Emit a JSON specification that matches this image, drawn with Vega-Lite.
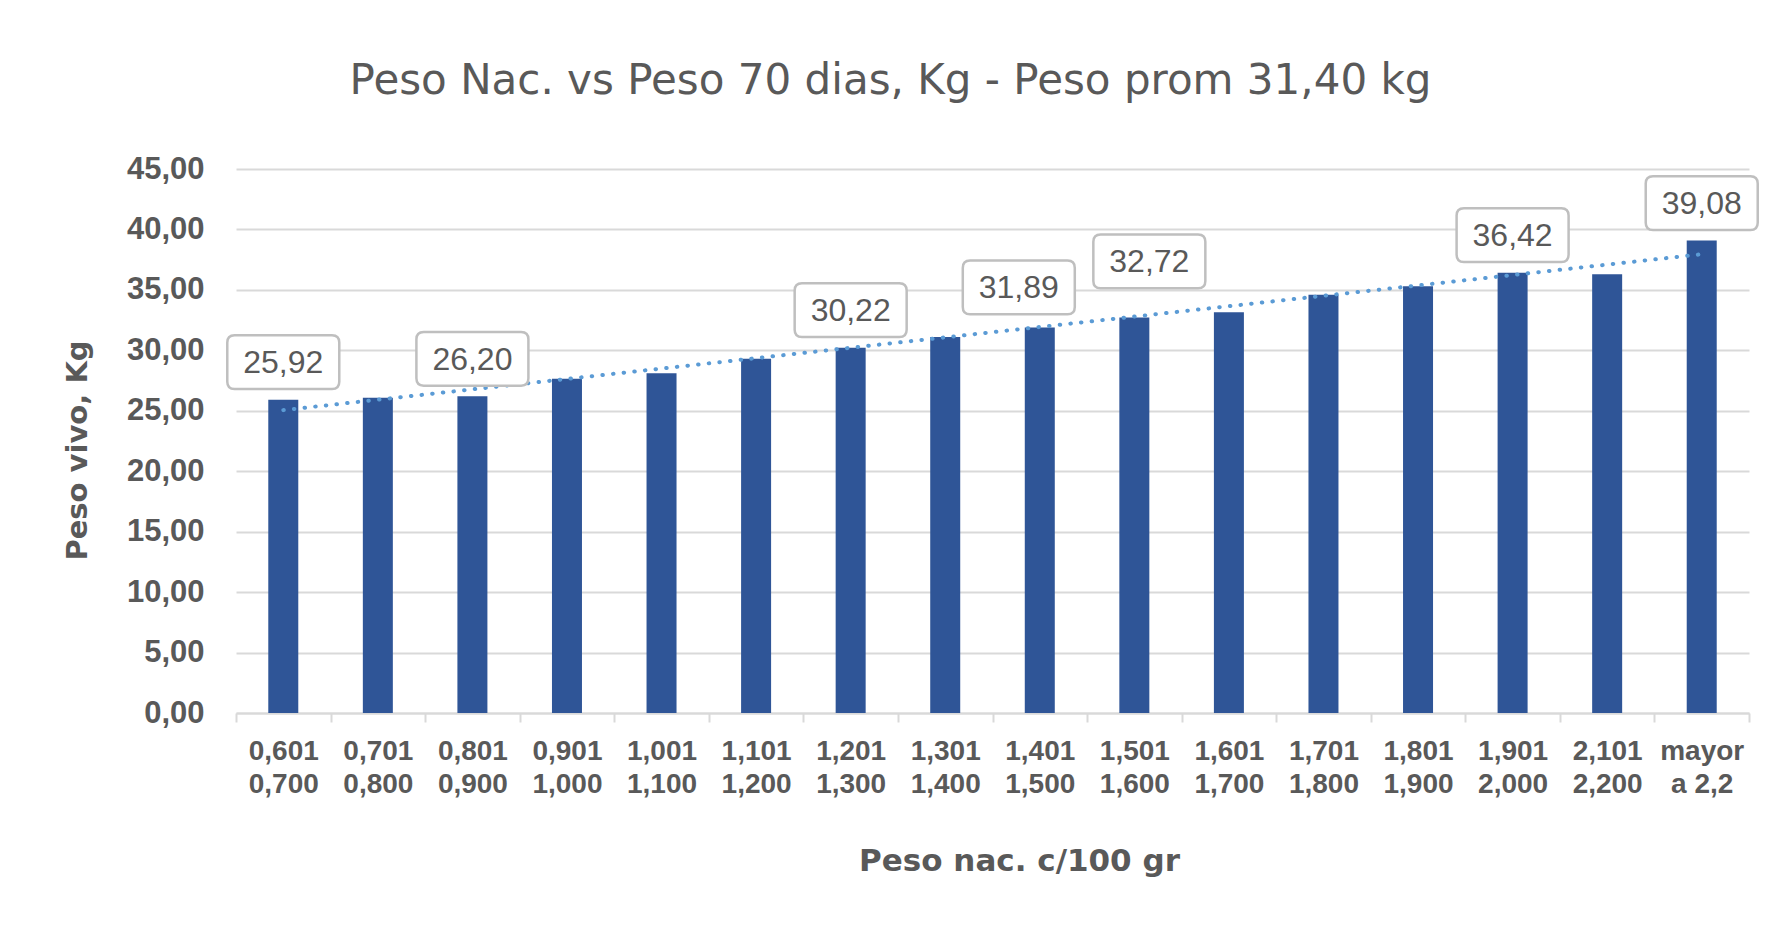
{
  "$schema": "https://vega.github.io/schema/vega-lite/v6.json",
  "width": 1513,
  "height": 544,
  "autosize": {"type": "none"},
  "padding": {"left": 236, "top": 169, "right": 32, "bottom": 215},
  "background": "white",
  "title": {
    "text": "Peso Nac. vs Peso 70 dias, Kg - Peso prom 31,40 kg",
    "font": "DejaVu Sans",
    "fontSize": 42,
    "fontWeight": "normal",
    "color": "#595959",
    "anchor": "middle",
    "frame": "group",
    "dx": -102,
    "offset": 17,
    "baseline": "alphabetic"
  },
  "datasets": {
    "bars": [
      {"idx": 1, "cat": "0,601|0,700", "value": 25.92, "etiqueta": true},
      {"idx": 2, "cat": "0,701|0,800", "value": 26.08, "etiqueta": false},
      {"idx": 3, "cat": "0,801|0,900", "value": 26.20, "etiqueta": true},
      {"idx": 4, "cat": "0,901|1,000", "value": 27.65, "etiqueta": false},
      {"idx": 5, "cat": "1,001|1,100", "value": 28.10, "etiqueta": false},
      {"idx": 6, "cat": "1,101|1,200", "value": 29.30, "etiqueta": false},
      {"idx": 7, "cat": "1,201|1,300", "value": 30.22, "etiqueta": true},
      {"idx": 8, "cat": "1,301|1,400", "value": 31.10, "etiqueta": false},
      {"idx": 9, "cat": "1,401|1,500", "value": 31.89, "etiqueta": true},
      {"idx": 10, "cat": "1,501|1,600", "value": 32.72, "etiqueta": true},
      {"idx": 11, "cat": "1,601|1,700", "value": 33.15, "etiqueta": false},
      {"idx": 12, "cat": "1,701|1,800", "value": 34.60, "etiqueta": false},
      {"idx": 13, "cat": "1,801|1,900", "value": 35.30, "etiqueta": false},
      {"idx": 14, "cat": "1,901|2,000", "value": 36.42, "etiqueta": true},
      {"idx": 15, "cat": "2,101|2,200", "value": 36.30, "etiqueta": false},
      {"idx": 16, "cat": "mayor|a 2,2", "value": 39.08, "etiqueta": true}
    ]
  },
  "data": {"name": "bars"},
  "encoding": {
    "x": {
      "field": "cat",
      "type": "nominal",
      "sort": null,
      "scale": {"paddingInner": 0, "paddingOuter": 0},
      "axis": {
        "title": "Peso nac. c/100 gr",
        "labelExpr": "isValid(datum.value) ? split(datum.value, '|') : ''",
        "labelAngle": 0,
        "labelFont": "Liberation Sans",
        "labelFontWeight": "bold",
        "labelFontSize": 28,
        "labelColor": "#595959",
        "labelLineHeight": 33,
        "labelPadding": 15,
        "labelBaseline": "top",
        "labelOverlap": false,
        "tickBand": "extent",
        "ticks": true,
        "tickSize": 9,
        "tickColor": "#D9D9D9",
        "tickWidth": 2,
        "domainColor": "#D9D9D9",
        "domainWidth": 2,
        "grid": false,
        "titleFont": "DejaVu Sans",
        "titleFontSize": 31,
        "titleFontWeight": "bold",
        "titleColor": "#595959",
        "titleX": 783,
        "titleY": 157,
        "titleAlign": "center",
        "titleBaseline": "alphabetic"
      }
    },
    "y": {
      "field": "value",
      "type": "quantitative",
      "scale": {"domain": [0, 45], "nice": false},
      "axis": {
        "title": "Peso vivo, Kg",
        "values": [0, 5, 10, 15, 20, 25, 30, 35, 40, 45],
        "format": ".2f",
        "domain": false,
        "ticks": false,
        "labelPadding": 32,
        "labelFont": "Liberation Sans",
        "labelFontWeight": "bold",
        "labelFontSize": 31,
        "labelColor": "#595959",
        "gridColor": "#D9D9D9",
        "gridWidth": 2,
        "titleFont": "DejaVu Sans",
        "titleFontSize": 29,
        "titleFontWeight": "bold",
        "titleColor": "#595959",
        "titleX": -159,
        "titleY": 281,
        "titleAngle": -90,
        "titleAlign": "center",
        "titleBaseline": "middle"
      }
    }
  },
  "layer": [
    {
      "mark": {"type": "bar", "width": 30, "color": "#2F5597"}
    },
    {
      "transform": [
        {"regression": "value", "on": "idx", "extent": [1, 16]},
        {"lookup": "idx", "from": {"data": {"name": "bars"}, "key": "idx", "fields": ["cat"]}}
      ],
      "mark": {"type": "line", "color": "#5B9BD5", "strokeWidth": 4, "strokeDash": [0.5, 10.2], "strokeCap": "round"}
    },
    {
      "transform": [{"filter": "datum.etiqueta"}],
      "mark": {
        "type": "point",
        "shape": "M-0.87,-0.48 H0.87 Q1,-0.48 1,-0.35 V0.35 Q1,0.48 0.87,0.48 H-0.87 Q-1,0.48 -1,0.35 V-0.35 Q-1,-0.48 -0.87,-0.48 Z",
        "size": 12544,
        "filled": true,
        "color": "white",
        "stroke": "#BFBFBF",
        "strokeWidth": 2.5,
        "opacity": 1,
        "fillOpacity": 1,
        "strokeOpacity": 1,
        "xOffset": {"expr": "datum.idx == 9 ? -21 : datum.idx == 10 ? 15 : 0"},
        "yOffset": {"expr": "datum.idx == 9 ? -40 : datum.idx == 10 ? -56 : -37.5"}
      }
    },
    {
      "transform": [{"filter": "datum.etiqueta"}],
      "mark": {
        "type": "text",
        "font": "Liberation Sans",
        "fontSize": 32,
        "color": "#595959",
        "baseline": "middle",
        "align": "center",
        "xOffset": {"expr": "datum.idx == 9 ? -21 : datum.idx == 10 ? 15 : 0"},
        "yOffset": {"expr": "datum.idx == 9 ? -39 : datum.idx == 10 ? -55 : -36.5"}
      },
      "encoding": {
        "text": {"field": "value", "type": "quantitative", "format": ".2f"}
      }
    }
  ],
  "config": {
    "view": {"stroke": null},
    "locale": {"number": {"decimal": ",", "thousands": ".", "grouping": [3], "currency": ["", " €"]}}
  }
}
